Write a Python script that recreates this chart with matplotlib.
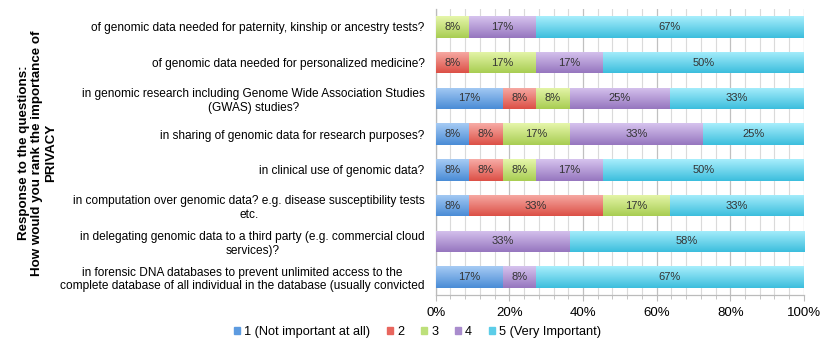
import matplotlib
matplotlib.use('Agg')
import matplotlib.pyplot as plt
import numpy as np
from matplotlib.colors import LinearSegmentedColormap
from matplotlib.ticker import MultipleLocator, PercentFormatter

###########
# DATA    #
###########

questions = [
    "of genomic data needed for paternity, kinship or ancestry tests?",
    "of genomic data needed for personalized medicine?",
    "in genomic research including Genome Wide Association Studies\n(GWAS) studies?",
    "in sharing of genomic data for research purposes?",
    "in clinical use of genomic data?",
    "in computation over genomic data? e.g. disease susceptibility tests\netc.",
    "in delegating genomic data to a third party (e.g. commercial cloud\nservices)?",
    "in forensic DNA databases to prevent unlimited access to the\ncomplete database of all individual in the database (usually convicted",
]
answers = ['1 (Not important at all)', '2', '3', '4', '5 (Very Important)']

# number of respondents per answer (12 people asked)
n_respondents = 12
rank1 = [0, 0, 2, 1, 1, 1, 0, 2]
rank2 = [0, 1, 1, 1, 1, 4, 0, 0]
rank3 = [1, 2, 1, 2, 1, 2, 0, 0]
rank4 = [2, 2, 3, 4, 2, 0, 4, 1]
rank5 = [8, 6, 4, 3, 6, 4, 7, 8]

# top / bottom shades of the glossy bars
shades = [('#a6cbf4', '#4a8cd6'),
          ('#f7aca6', '#dc5046'),
          ('#e6f6ab', '#a8cd52'),
          ('#d6c3ee', '#9676bf'),
          ('#a8eefc', '#3cbedd')]
legend_colors = ['#5d9be0', '#e8665e', '#bde07a', '#a98ccd', '#5ccde8']

###########

plt.rcParams['font.family'] = ['Liberation Sans', 'DejaVu Sans']

fig = plt.figure(figsize=(8.30, 3.49), dpi=100)
ax = fig.add_axes([0.525, 0.155, 0.4435, 0.819])

series = np.array([rank1, rank2, rank3, rank4, rank5], dtype=float)
totals = series.sum(axis=0)
shares = series / totals
y = np.arange(len(questions))

ax.set_xlim(0, 1)
ax.set_ylim(len(questions) - 0.5, -0.5)

left = np.zeros(len(questions))
for k in range(len(answers)):
    bars = ax.barh(y, shares[k], left=left, height=0.6, color=legend_colors[k],
                   label=answers[k], zorder=2, linewidth=0)
    cmap = LinearSegmentedColormap.from_list('g%d' % k, [shades[k][0], shades[k][1]])
    grad = np.linspace(0, 1, 64).reshape(-1, 1)
    for i, rect in enumerate(bars):
        if shares[k][i] == 0:
            continue
        x0 = rect.get_x()
        y0 = rect.get_y()
        im = ax.imshow(grad, cmap=cmap, aspect='auto', zorder=3,
                       extent=(x0, x0 + rect.get_width(), y0 + rect.get_height(), y0))
        im.set_clip_path(rect)
        pct = int(round(series[k][i] / n_respondents * 100))
        ax.text(x0 + rect.get_width() / 2, y[i], '%d%%' % pct, ha='center', va='center',
                fontsize=8, color='#333333', zorder=4)
    left = left + shares[k]

ax.set_xlim(0, 1)
ax.set_ylim(len(questions) - 0.5, -0.5)

# grid
ax.xaxis.set_major_locator(MultipleLocator(0.2))
ax.xaxis.set_minor_locator(MultipleLocator(0.04))
ax.xaxis.set_major_formatter(PercentFormatter(1.0, decimals=0))
ax.grid(axis='x', which='minor', color='#dadada', linewidth=0.8, zorder=0)
ax.grid(axis='x', which='major', color='#c0c0c0', linewidth=0.9, zorder=0)
ax.set_axisbelow(True)

for s in ['top', 'right']:
    ax.spines[s].set_visible(False)
for s in ['left', 'bottom']:
    ax.spines[s].set_color('#bbbbbb')
    ax.spines[s].set_linewidth(0.9)

ax.tick_params(axis='x', which='both', direction='out', colors='#bbbbbb',
               labelcolor='black', labelsize=9.5, pad=5)
ax.tick_params(axis='x', which='major', length=4)
ax.tick_params(axis='x', which='minor', length=3)
ax.tick_params(axis='y', length=0, labelsize=8.6, pad=8)

ax.set_yticks(y)
ax.set_yticklabels(questions)
for lab in ax.get_yticklabels():
    lab.set_multialignment('center')

fig.text(0.045, 0.562,
         'Response to the questions:\nHow would you rank the importance of\nPRIVACY',
         rotation=90, ha='center', va='center', fontsize=9.6, fontweight='bold',
         multialignment='center', linespacing=1.2)

handles = [plt.Rectangle((0, 0), 1, 1, color=c) for c in legend_colors]
fig.legend(handles, answers, loc='center', bbox_to_anchor=(0.503, 0.049), ncol=5,
           frameon=False, fontsize=9.2, handlelength=0.5, handleheight=0.5,
           handletextpad=0.3, columnspacing=1.3)

fig.savefig('out.png', dpi=100)
